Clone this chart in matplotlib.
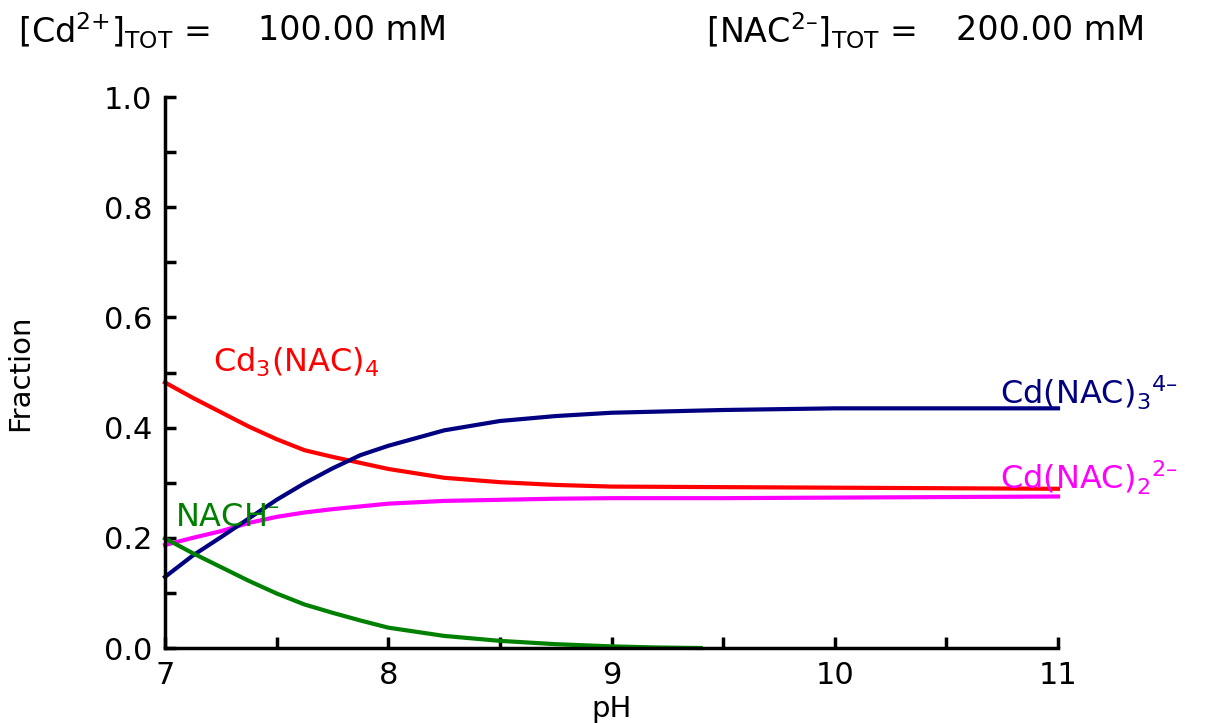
import matplotlib
matplotlib.use("Agg")
from matplotlib import pyplot as plt
from matplotlib.ticker import MultipleLocator

plt.rcParams['font.family'] = ['DejaVu Sans']
plt.rcParams['mathtext.fontset'] = 'dejavusans'
plt.rcParams['mathtext.default'] = 'regular'

# Данные
ph = [7, 7.125, 7.25, 7.375, 7.5, 7.625, 7.75, 7.875, 8, 8.25, 8.5, 8.75, 9, 9.5, 10, 10.5, 11]
cd3nac4 = [0.482, 0.454, 0.428, 0.402, 0.379, 0.359, 0.347, 0.336, 0.325, 0.309, 0.301, 0.296,
           0.293, 0.292, 0.291, 0.290, 0.289]
cdnac3 = [0.129, 0.168, 0.201, 0.235, 0.269, 0.299, 0.326, 0.350, 0.367, 0.395, 0.412, 0.421,
          0.427, 0.432, 0.435, 0.435, 0.435]
cdnac2 = [0.187, 0.200, 0.212, 0.227, 0.238, 0.246, 0.252, 0.257, 0.262, 0.267, 0.269, 0.271,
          0.272, 0.272, 0.273, 0.274, 0.275]
ph_nach = [7, 7.125, 7.25, 7.375, 7.5, 7.625, 7.75, 7.875, 8, 8.25, 8.5, 8.75, 9, 9.2, 9.4]
nach = [0.199, 0.172, 0.147, 0.122, 0.099, 0.079, 0.064, 0.050, 0.037, 0.022, 0.013, 0.007,
        0.003, 0.001, 0.0]

fig = plt.figure(figsize=(12.06, 7.23), dpi=100)
ax = fig.add_axes([0.1368, 0.1037, 0.7405, 0.7621])

lw = 3
ax.plot(ph, cd3nac4, color='#ff0000', lw=lw, clip_on=False)
ax.plot(ph, cdnac2, color='#ff00ff', lw=lw, clip_on=False)
ax.plot(ph, cdnac3, color='#000080', lw=lw, clip_on=False)
ax.plot(ph_nach, nach, color='#008000', lw=lw, clip_on=False)

fs = 23
ax.text(7.215, 0.519, r'Cd$_3$(NAC)$_4$', color='#ff0000', fontsize=fs, va='center')
ax.text(7.045, 0.236, 'NACH$^{\u2013}$', color='#008000', fontsize=fs, va='center')
ax.text(10.74, 0.463, 'Cd(NAC)$_3$$^{4\u2013}$', color='#000080', fontsize=fs, va='center')
ax.text(10.74, 0.308, 'Cd(NAC)$_2$$^{2\u2013}$', color='#ff00ff', fontsize=fs, va='center')

ax.set_xlim(7, 11)
ax.set_ylim(0, 1.0)
ax.xaxis.set_major_locator(MultipleLocator(1))
ax.xaxis.set_minor_locator(MultipleLocator(0.5))
ax.yaxis.set_major_locator(MultipleLocator(0.2))
ax.yaxis.set_minor_locator(MultipleLocator(0.1))
ax.yaxis.set_major_formatter(plt.FormatStrFormatter('%.1f'))

for s in ['top', 'right']:
    ax.spines[s].set_visible(False)
for s in ['left', 'bottom']:
    ax.spines[s].set_linewidth(2.5)
ax.tick_params(which='both', direction='in', length=8, width=2.5, labelsize=22)
ax.tick_params(axis='x', pad=9)
ax.tick_params(axis='y', pad=9)

ax.set_xlabel('pH', fontsize=21)
ax.set_ylabel('Fraction', fontsize=21)
ax.xaxis.set_label_coords(0.5, -0.085)
ax.yaxis.set_label_coords(-0.146, 0.5)

# Заголовки с концентрациями
tfs = 24
fig.text(18 / 1206, 0.958, r'[Cd$^{2{+}}$]$_{TOT}$ =', fontsize=tfs, va='center')
fig.text(258 / 1206, 0.958, '100.00 mM', fontsize=tfs, va='center')
fig.text(706 / 1206, 0.958, '[NAC$^{2\u2013}$]$_{TOT}$ =', fontsize=tfs, va='center')
fig.text(956 / 1206, 0.958, '200.00 mM', fontsize=tfs, va='center')

plt.savefig('out.png')
